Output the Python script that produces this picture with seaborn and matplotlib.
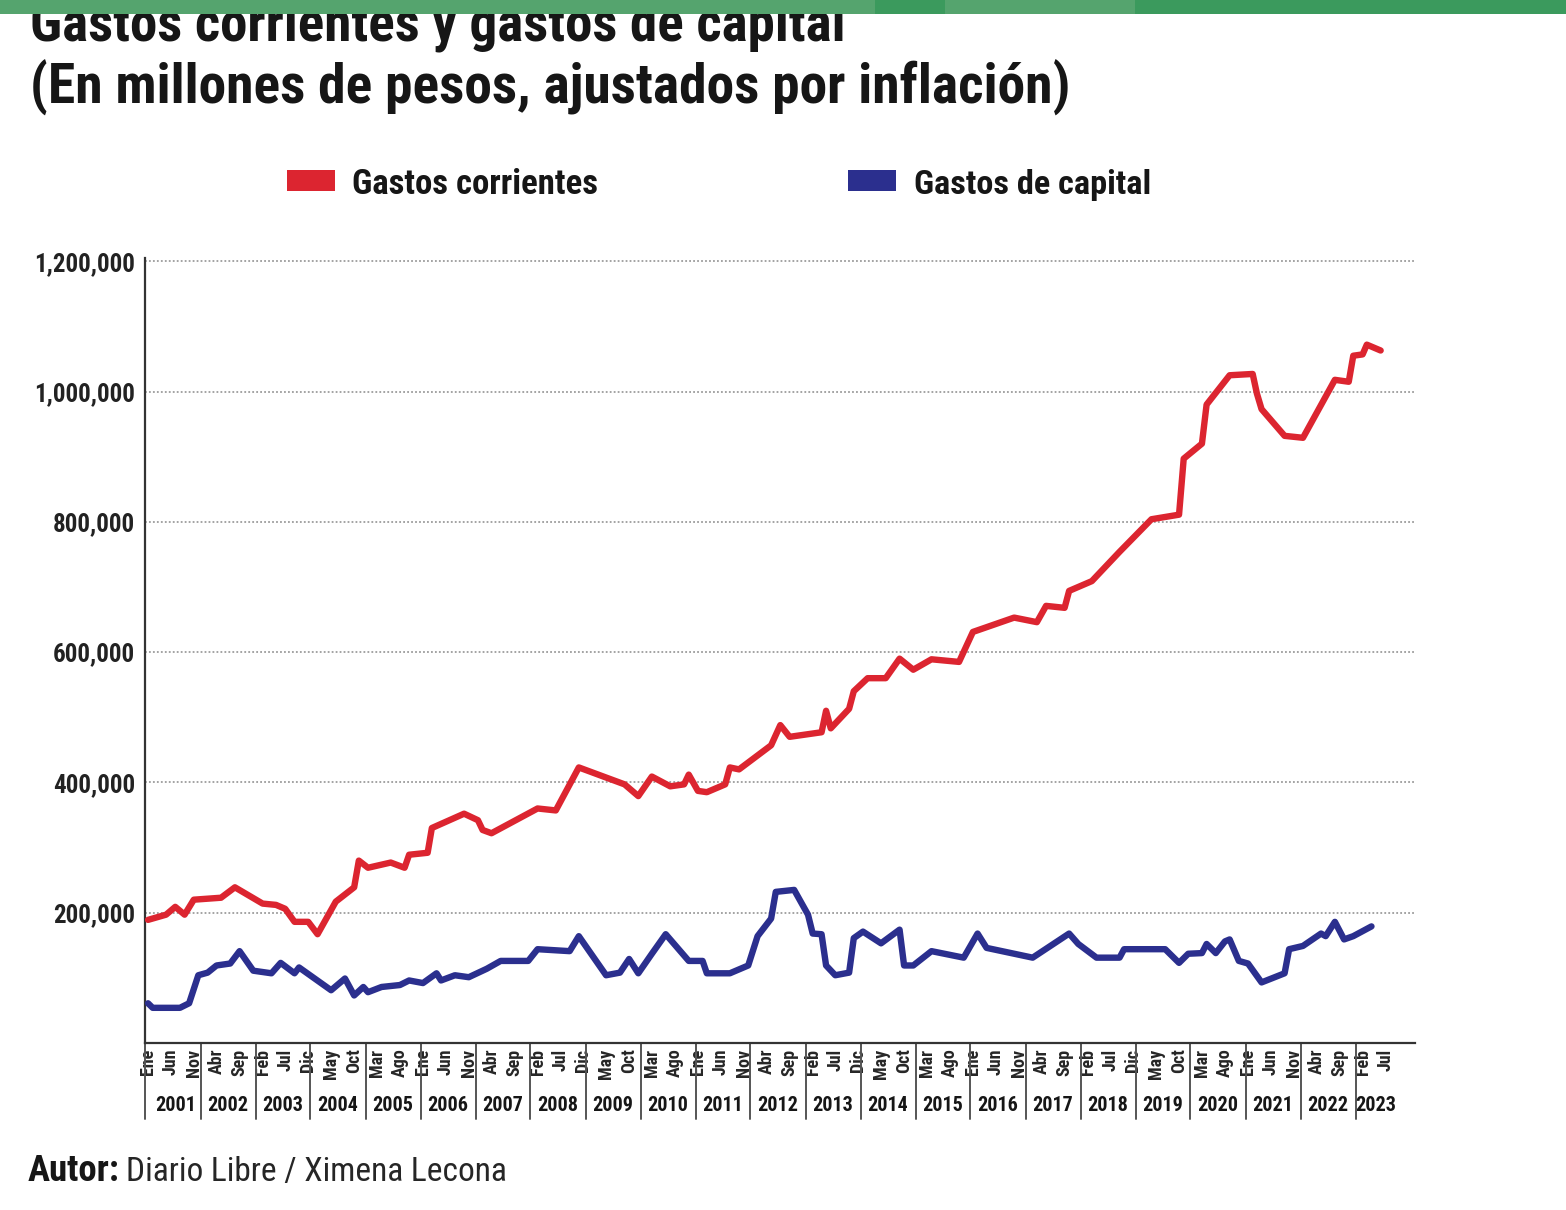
import matplotlib
matplotlib.use("Agg")
import numpy as np
import pandas as pd
import matplotlib.pyplot as plt
import seaborn as sns
from matplotlib import font_manager as fm
import matplotlib.patches as mpatches

# Gastos corrientes (millones de pesos, ajustados por inflacion) - vertices
red_fechas = ['2001-01', '2001-05', '2001-07', '2001-09', '2001-11', '2002-05', '2002-08',
              '2003-02', '2003-05', '2003-07', '2003-09', '2003-12', '2004-02', '2004-06',
              '2004-10', '2004-11', '2005-01', '2005-06', '2005-09', '2005-10', '2006-02',
              '2006-03', '2006-10', '2007-01', '2007-02', '2007-04', '2008-02', '2008-06',
              '2008-11', '2009-09', '2009-12', '2010-03', '2010-07', '2010-10', '2010-11',
              '2011-01', '2011-03', '2011-07', '2011-08', '2011-10', '2012-05', '2012-07',
              '2012-09', '2013-04', '2013-05', '2013-06', '2013-10', '2013-11', '2014-02',
              '2014-06', '2014-09', '2014-12', '2015-04', '2015-10', '2016-01', '2016-10',
              '2017-03', '2017-05', '2017-09', '2017-10', '2018-03', '2018-09', '2019-04',
              '2019-10', '2019-11', '2020-03', '2020-04', '2020-09', '2021-02', '2021-03',
              '2021-04', '2021-09', '2022-01', '2022-08', '2022-11', '2022-12', '2023-02',
              '2023-03', '2023-06']
red_valores = [189000, 197000, 209000, 197000, 220000, 223000, 239000,
               214000, 212000, 206000, 186000, 186000, 167000, 217000,
               239000, 280000, 269000, 277000, 269000, 289000, 292000,
               330000, 352000, 342000, 327000, 322000, 360000, 357000,
               423000, 397000, 379000, 409000, 394000, 397000, 412000,
               387000, 385000, 397000, 423000, 420000, 457000, 488000,
               470000, 477000, 510000, 483000, 513000, 540000, 560000,
               560000, 590000, 573000, 589000, 585000, 631000, 653000,
               646000, 671000, 668000, 694000, 709000, 754000, 804000,
               811000, 897000, 920000, 980000, 1025000, 1027000, 997000,
               973000, 932000, 929000, 1018000, 1015000, 1055000, 1057000,
               1072000, 1063000]

# Gastos de capital
blue_fechas = ['2001-01', '2001-02', '2001-08', '2001-10', '2001-12', '2002-02', '2002-04',
               '2002-07', '2002-09', '2002-12', '2003-04', '2003-06', '2003-09', '2003-10',
               '2004-05', '2004-08', '2004-10', '2004-12', '2005-01', '2005-04', '2005-08',
               '2005-10', '2006-01', '2006-04', '2006-05', '2006-08', '2006-11', '2007-03',
               '2007-06', '2007-12', '2008-02', '2008-09', '2008-11', '2009-05', '2009-08',
               '2009-10', '2009-12', '2010-03', '2010-06', '2010-11', '2011-02', '2011-03',
               '2011-08', '2011-12', '2012-02', '2012-05', '2012-06', '2012-10', '2013-01',
               '2013-02', '2013-04', '2013-05', '2013-07', '2013-10', '2013-11', '2014-01',
               '2014-05', '2014-09', '2014-10', '2014-12', '2015-04', '2015-11', '2016-02',
               '2016-04', '2017-02', '2017-10', '2017-12', '2018-04', '2018-09', '2018-10',
               '2019-07', '2019-10', '2019-12', '2020-03', '2020-04', '2020-06', '2020-08',
               '2020-09', '2020-11', '2021-01', '2021-04', '2021-09', '2021-10', '2022-01',
               '2022-05', '2022-06', '2022-08', '2022-10', '2022-12', '2023-04']
blue_valores = [61000, 54000, 54000, 61000, 104000, 108000, 119000,
                122000, 141000, 111000, 107000, 123000, 107000, 116000,
                81000, 99000, 73000, 86000, 78000, 86000, 89000,
                96000, 92000, 107000, 96000, 104000, 101000, 114000,
                126000, 126000, 144000, 141000, 164000, 104000, 108000,
                129000, 107000, 137000, 167000, 126000, 126000, 107000,
                107000, 119000, 164000, 191000, 232000, 235000, 197000,
                168000, 167000, 119000, 104000, 108000, 161000, 171000,
                153000, 174000, 119000, 119000, 141000, 131000, 168000,
                146000, 131000, 168000, 152000, 131000, 131000, 144000,
                144000, 123000, 137000, 138000, 152000, 138000, 156000,
                159000, 126000, 122000, 93000, 107000, 144000, 149000,
                168000, 164000, 186000, 159000, 164000, 179000]

series = ['Gastos corrientes', 'Gastos de capital']
y_ticks = [200000, 400000, 600000, 800000, 1000000, 1200000]
meses = ['Ene', 'Feb', 'Mar', 'Abr', 'May', 'Jun', 'Jul', 'Ago', 'Sep', 'Oct', 'Nov', 'Dic']
years = list(range(2001, 2024))

RED = '#dc2530'
BLUE = '#2b2f8e'
TXT = '#161616'


def pick_font(cands):
    for f in cands:
        try:
            fm.findfont(fm.FontProperties(family=f), fallback_to_default=False)
            return f
        except Exception:
            pass
    return 'DejaVu Sans'


sns.set_theme(style='white')
font = pick_font(['Liberation Sans Narrow', 'Roboto Condensed', 'Noto Sans Condensed',
                  'Open Sans Condensed', 'Noto Sans'])
plt.rcParams['font.family'] = [font, 'DejaVu Sans']

W, H = 1566, 1210
fig = plt.figure(figsize=(W / 100, H / 100), dpi=100)
fig.patch.set_facecolor('white')
renderer = fig.canvas.get_renderer()


def fx(px):
    return px / W


def fy(py):
    return 1 - py / H


def fit(t, width_px):
    w = t.get_window_extent(renderer).width
    t.set_fontsize(t.get_fontsize() * width_px / w)
    return t


ax = fig.add_axes([fx(145), fy(1043), (1415 - 145) / W, (1043 - 258) / H])

df = pd.concat([
    pd.DataFrame({'fecha': pd.to_datetime(red_fechas), 'valor': red_valores, 'serie': series[0]}),
    pd.DataFrame({'fecha': pd.to_datetime(blue_fechas), 'valor': blue_valores, 'serie': series[1]}),
])

sns.lineplot(data=df, x='fecha', y='valor', hue='serie', palette={series[0]: RED, series[1]: BLUE},
             estimator=None, linewidth=4.6, legend=False, ax=ax, zorder=3)

x_left = pd.Timestamp('2000-12-12')
x_right = pd.Timestamp('2024-01-15')
ax.set_xlim(x_left, x_right)
ax.set_ylim(0, 1205000)
ax.set_yticks(y_ticks)
ax.set_yticklabels([f'{v:,}' for v in y_ticks])
ax.tick_params(axis='y', length=0, pad=7, labelsize=18, labelcolor='#222222')
for lab in ax.get_yticklabels():
    lab.set_fontweight('semibold')

ax.yaxis.grid(True, linestyle=(0, (1, 1.2)), color='#9c9c9c', linewidth=1.3, zorder=0)
ax.xaxis.grid(False)
for s in ['top', 'right']:
    ax.spines[s].set_visible(False)
for s in ['left', 'bottom']:
    ax.spines[s].set_color('#333333')
    ax.spines[s].set_linewidth(1.6)
ax.set_xlabel('')
ax.set_ylabel('')

# month ticks every five months
tick_dates = pd.date_range('2001-01-01', '2023-07-01', freq='5MS')
ax.set_xticks(tick_dates)
ax.set_xticklabels([meses[d.month - 1] for d in tick_dates], rotation=90, fontsize=13,
                   fontweight='bold', color='#262626', va='top', ha='center')
ax.tick_params(axis='x', length=0, pad=4)

# year groups: separators and labels under the month ticks
xt = ax.get_xaxis_transform()
sep_dates = [x_left] + [pd.Timestamp(f'{y - 1}-12-16') for y in years[1:]]
for d in sep_dates:
    ax.plot([d, d], [0, -0.097], transform=xt, color='#555555', linewidth=1.4, clip_on=False)
group_end = sep_dates[1:] + [pd.Timestamp('2023-09-15')]
for y, a, b in zip(years, sep_dates, group_end):
    c = a + (b - a) / 2
    if y == 2001:
        c = pd.Timestamp('2001-07-01')
    ax.text(c, -0.079, str(y), transform=xt, ha='center', va='center', fontsize=14.5,
            fontweight='bold', color=TXT)

# header band
fig.patches.append(mpatches.Rectangle((0, fy(14)), 1, 14 / H, transform=fig.transFigure,
                                      facecolor='#55a46e', edgecolor='none', zorder=10))
for a, b in [(875, 945), (1135, 1566)]:
    fig.patches.append(mpatches.Rectangle((fx(a), fy(14)), (b - a) / W, 14 / H,
                                          transform=fig.transFigure, facecolor='#3b9a5d',
                                          edgecolor='none', zorder=11))

t1 = fig.text(fx(30), fy(40), 'Gastos corrientes y gastos de capital', fontsize=34,
              color=TXT, fontweight='semibold', ha='left', va='baseline', zorder=2)
fit(t1, 815)
t2 = fig.text(fx(30), fy(104), '(En millones de pesos, ajustados por inflación)', fontsize=34,
              color=TXT, fontweight='semibold', ha='left', va='baseline', zorder=2)
fit(t2, 1040)

# legend
for (x0, x1, txt_x, txt_w), col, name in zip([(287, 335, 352, 246), (848, 896, 914, 237)],
                                             [RED, BLUE], series):
    fig.patches.append(mpatches.Rectangle((fx(x0), fy(191)), (x1 - x0) / W, 21 / H,
                                          transform=fig.transFigure, facecolor=col,
                                          edgecolor='none'))
    t = fig.text(fx(txt_x), fy(194), name, fontsize=22, color=TXT, fontweight='semibold',
                 ha='left', va='baseline')
    fit(t, txt_w)

# footer
ta = fig.text(fx(28), fy(1181), 'Autor:', fontsize=19, color=TXT, fontweight='bold',
              ha='left', va='baseline')
fit(ta, 92)
tb = fig.text(fx(126), fy(1181), 'Diario Libre / Ximena Lecona', fontsize=19, color='#262626',
              ha='left', va='baseline')
fit(tb, 381)

fig.savefig('out.png', dpi=100, facecolor='white')
